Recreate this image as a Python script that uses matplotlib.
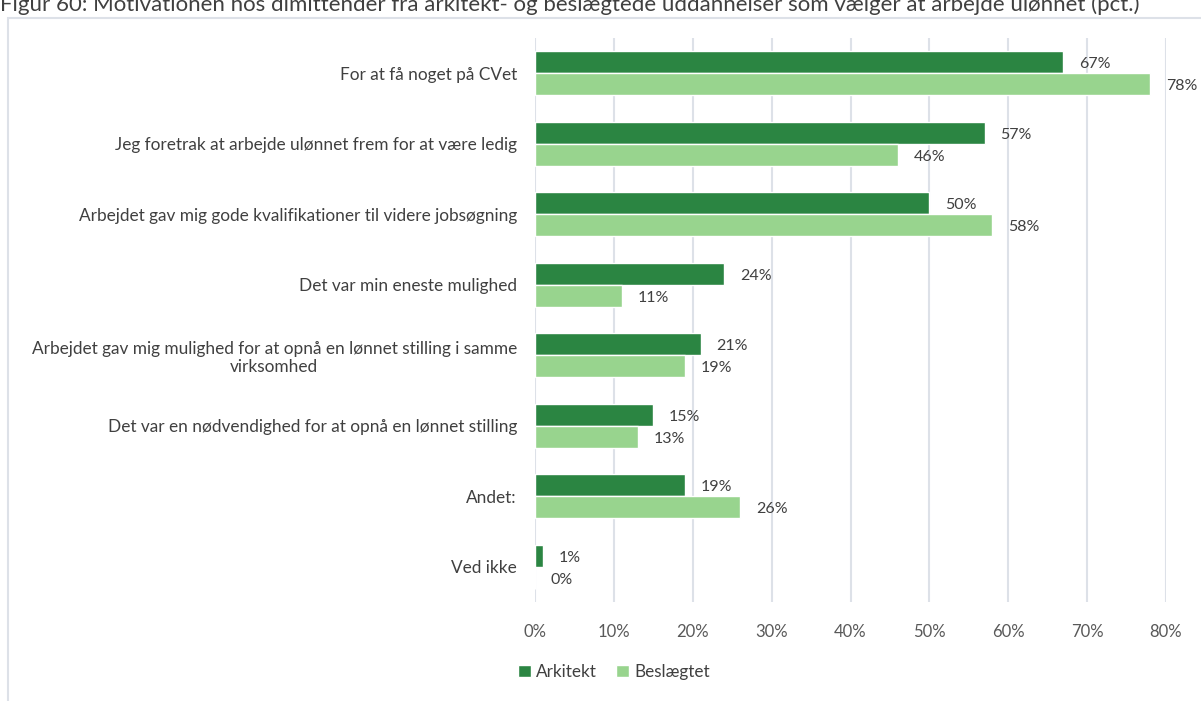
import matplotlib.pyplot as plt
from matplotlib.patches import Rectangle
import numpy as np

plt.rcParams['font.family'] = ['Lato', 'DejaVu Sans']

categories = [
    'For at få noget på CVet',
    'Jeg foretrak at arbejde ulønnet frem for at være ledig',
    'Arbejdet gav mig gode kvalifikationer til videre jobsøgning',
    'Det var min eneste mulighed',
    'Arbejdet gav mig mulighed for at opnå en lønnet stilling i samme\nvirksomhed',
    'Det var en nødvendighed for at opnå en lønnet stilling',
    'Andet:',
    'Ved ikke',
]
arkitekt = [67, 57, 50, 24, 21, 15, 19, 1]
beslaegtet = [78, 46, 58, 11, 19, 13, 26, 0]
xticks = [0, 10, 20, 30, 40, 50, 60, 70, 80]

dark = '#2B8542'
light = '#98D48E'
grid_col = '#DDE1E8'
text_col = '#404040'

fig = plt.figure(figsize=(12.01, 7.01), dpi=100)

# outer chart frame and caption (clipped at the top like the original)
fig.patches.append(Rectangle((8 / 1201, -0.1), 1.2, 1 - 18 / 701 + 0.1,
                             transform=fig.transFigure, fill=False,
                             edgecolor=grid_col, linewidth=1.5))
fig.text(0.0, 1 - 11 / 701, 'Figur 60: Motivationen hos dimittender fra arkitekt- og '
         'beslægtede uddannelser som vælger at arbejde ulønnet (pct.)',
         fontsize=16, color=text_col, va='baseline', ha='left')

ax = fig.add_axes([535 / 1201, 1 - 602 / 701, (1166 - 535) / 1201, (602 - 38) / 701])

y = np.arange(len(categories))
h = 0.31
ax.barh(y - h / 2, arkitekt, height=h, color=dark, edgecolor='white', linewidth=1,
        label='Arkitekt', zorder=3)
ax.barh(y + h / 2, beslaegtet, height=h, color=light, edgecolor='white', linewidth=1,
        label='Beslægtet', zorder=3)

for i in range(len(categories)):
    ax.text(arkitekt[i] + 2.0, y[i] - h / 2 + 0.03, f'{arkitekt[i]}%', va='center',
            ha='left', fontsize=11.5, color=text_col)
    ax.text(beslaegtet[i] + 2.0, y[i] + h / 2 + 0.03, f'{beslaegtet[i]}%', va='center',
            ha='left', fontsize=11.5, color=text_col)

ax.set_ylim(len(categories) - 0.5, -0.5)
ax.set_xlim(0, 80)
ax.set_yticks(y)
ax.set_yticklabels(categories, fontsize=12.4, color=text_col, ha='right', multialignment='center')
ax.set_xticks(xticks)
ax.set_xticklabels([f'{t}%' for t in xticks], fontsize=12, color='#595959')
ax.tick_params(axis='both', length=0)
ax.tick_params(axis='y', pad=13)
ax.tick_params(axis='x', pad=16)
ax.grid(axis='x', color=grid_col, linewidth=1.5, zorder=0)
for s in ax.spines.values():
    s.set_visible(False)

fig.legend(loc='center', bbox_to_anchor=(614 / 1201, 1 - 672 / 701), ncol=2, frameon=False,
           fontsize=12.3, handlelength=0.75, handleheight=0.75, handletextpad=0.3,
           columnspacing=1.1, labelcolor=text_col)

fig.savefig('out.png', dpi=100)
